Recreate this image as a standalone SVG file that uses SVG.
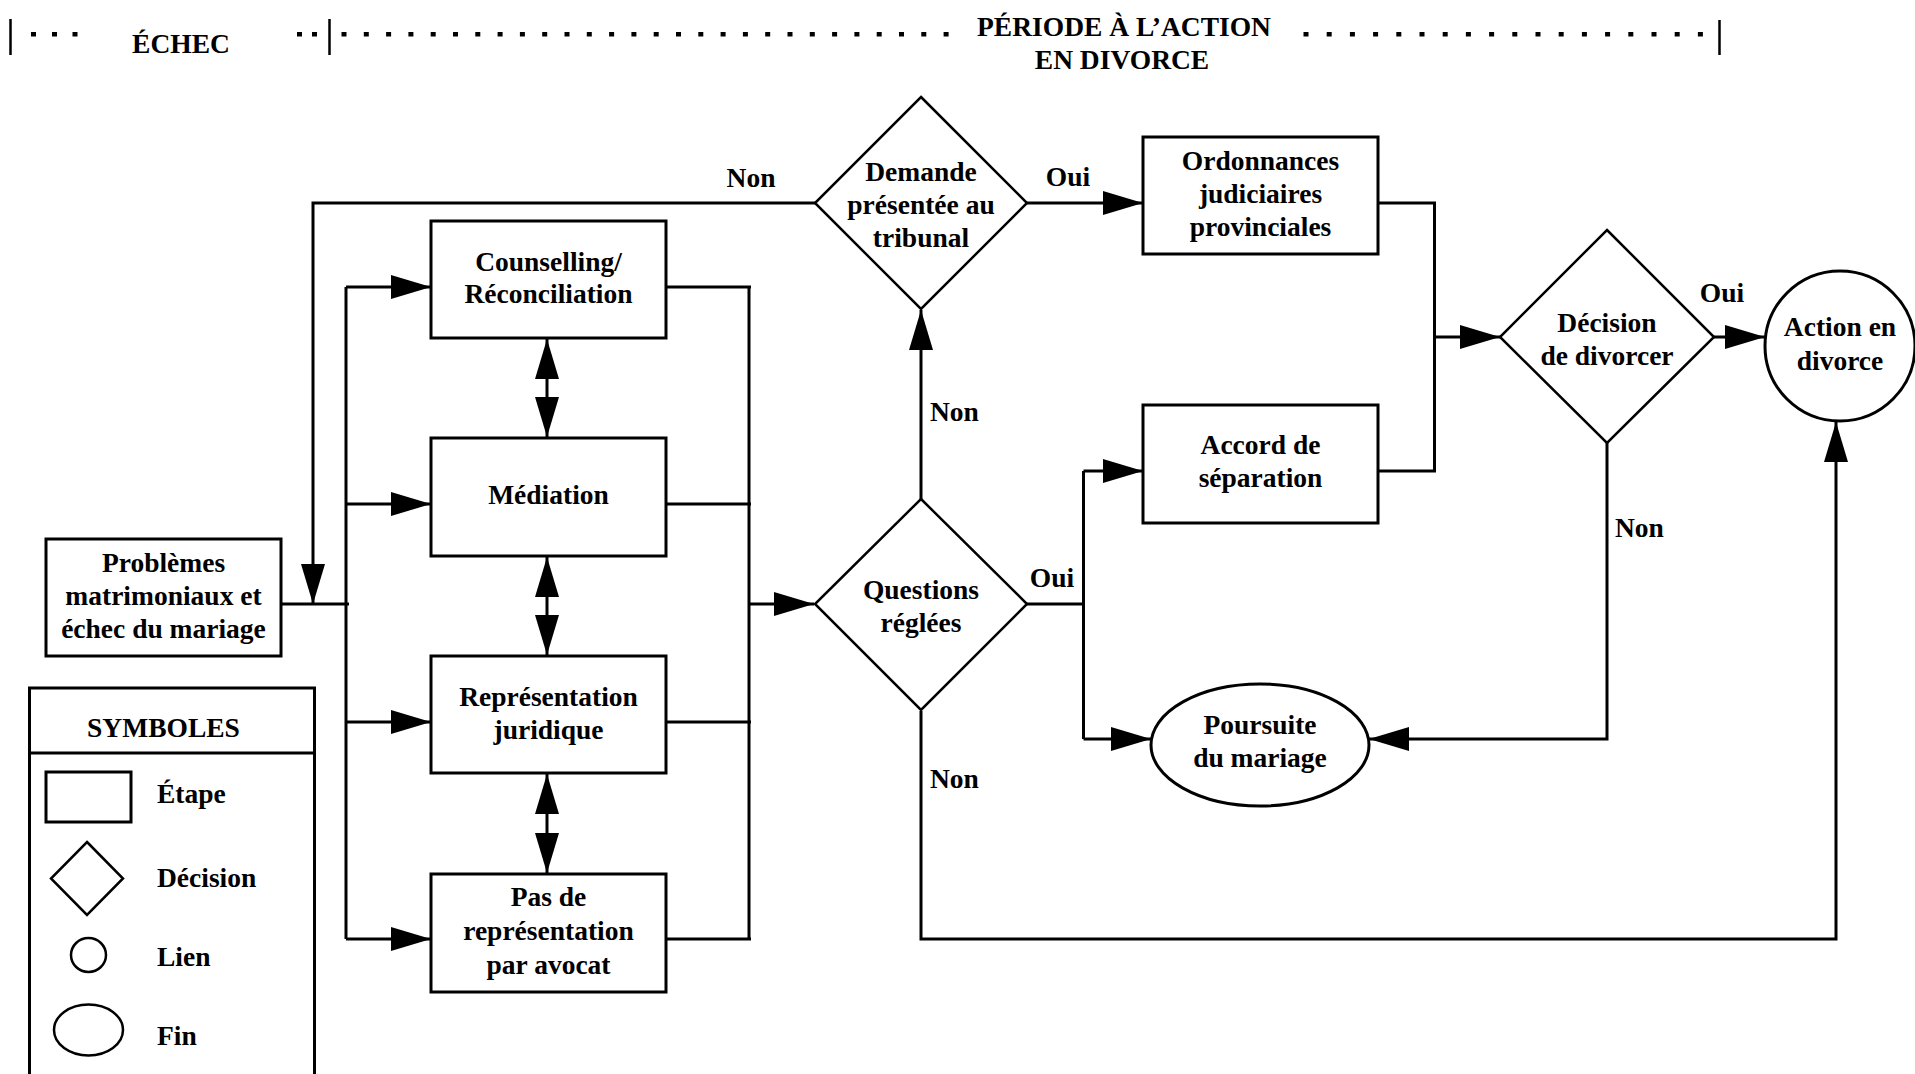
<svg xmlns="http://www.w3.org/2000/svg" width="1915" height="1074" viewBox="0 0 1915 1074">
<defs>
<marker id="ah" markerUnits="userSpaceOnUse" markerWidth="40" markerHeight="24" refX="40" refY="12" orient="auto-start-reverse" viewBox="0 0 40 24"><path d="M0,0 L40,12 L0,24 z" fill="#000"/></marker>
</defs>
<style>
.t{font-family:"Liberation Serif","Times New Roman",serif;font-weight:bold;font-size:27.5px;fill:#000;text-anchor:middle}
.l{text-anchor:start}
.box{fill:#fff;stroke:#000;stroke-width:3}
.dia{fill:#fff;stroke:#000;stroke-width:2.5}
.c{fill:none;stroke:#000;stroke-width:3}
.a{marker-end:url(#ah)}
.b{marker-start:url(#ah);marker-end:url(#ah)}
.bar{stroke:#000;stroke-width:2.5}
</style>
<rect width="1915" height="1074" fill="#fff"/>

<g id="header">
<line class="bar" x1="10.5" y1="19" x2="10.5" y2="55"/>
<line class="bar" x1="329.5" y1="19" x2="329.5" y2="55"/>
<line class="bar" x1="1719.5" y1="20" x2="1719.5" y2="55"/>
<path fill="#000" d="M31,32h5v4.5h-5z M52,32h5v4.5h-5z M72.5,32h5v4.5h-5z M297,32h5v4.5h-5z M312,32h5v4.5h-5z
M341.5,32h5v4.5h-5z M363.8,32h5v4.5h-5z M386.1,32h5v4.5h-5z M408.4,32h5v4.5h-5z M430.7,32h5v4.5h-5z M453,32h5v4.5h-5z M475.3,32h5v4.5h-5z M497.6,32h5v4.5h-5z M519.9,32h5v4.5h-5z M542.2,32h5v4.5h-5z M564.5,32h5v4.5h-5z M586.8,32h5v4.5h-5z M609.1,32h5v4.5h-5z M631.4,32h5v4.5h-5z M653.7,32h5v4.5h-5z M676,32h5v4.5h-5z M698.3,32h5v4.5h-5z M720.6,32h5v4.5h-5z M742.9,32h5v4.5h-5z M765.2,32h5v4.5h-5z M787.5,32h5v4.5h-5z M809.8,32h5v4.5h-5z M832.1,32h5v4.5h-5z M854.4,32h5v4.5h-5z M876.7,32h5v4.5h-5z M899,32h5v4.5h-5z M921.3,32h5v4.5h-5z M943.6,32h5v4.5h-5z
M1303.5,32h5v4.5h-5z M1326.7,32h5v4.5h-5z M1349.9,32h5v4.5h-5z M1373.1,32h5v4.5h-5z M1396.3,32h5v4.5h-5z M1419.5,32h5v4.5h-5z M1442.7,32h5v4.5h-5z M1465.9,32h5v4.5h-5z M1489.1,32h5v4.5h-5z M1512.3,32h5v4.5h-5z M1535.5,32h5v4.5h-5z M1558.7,32h5v4.5h-5z M1581.9,32h5v4.5h-5z M1605.1,32h5v4.5h-5z M1628.3,32h5v4.5h-5z M1651.5,32h5v4.5h-5z M1674.7,32h5v4.5h-5z M1697.9,32h5v4.5h-5z"/>
<text class="t" x="181" y="53">ÉCHEC</text>
<text class="t" x="1124" y="36">PÉRIODE À L’ACTION</text>
<text class="t" x="1122" y="69">EN DIVORCE</text>
</g>

<g id="connectors">
<path class="c" d="M281,604 H349"/>
<path class="c" d="M346,287 V939"/>
<path class="c a" d="M346,287 H431"/>
<path class="c a" d="M346,504 H431"/>
<path class="c a" d="M346,722 H431"/>
<path class="c a" d="M346,939 H431"/>
<path class="c" d="M666,287 H751 M666,504 H751 M666,722 H751 M666,939 H751 M749,287 V939"/>
<path class="c a" d="M749,604 H814"/>
<path class="c b" d="M547,339 V437"/>
<path class="c b" d="M547,557 V655"/>
<path class="c b" d="M547,774 V873"/>
<path class="c a" d="M921,500 V310"/>
<path class="c a" d="M815,203 H313 V604"/>
<path class="c a" d="M1027,203 H1143"/>
<path class="c" d="M1378,203 H1436 M1434.5,203 V471 M1378,471 H1436"/>
<path class="c a" d="M1434.5,337 H1500"/>
<path class="c a" d="M1714,337 H1765"/>
<path class="c" d="M1027,604 H1085 M1083.5,471 V739"/>
<path class="c a" d="M1083.5,471 H1143"/>
<path class="c a" d="M1083.5,739 H1151"/>
<path class="c a" d="M1607,443 V739 H1369"/>
<path class="c a" d="M921,711 V939 H1836 V422"/>
<text class="t" x="751" y="187">Non</text>
<text class="t" x="1068" y="186">Oui</text>
<text class="t l" x="930" y="421">Non</text>
<text class="t" x="1052" y="587">Oui</text>
<text class="t l" x="930" y="788">Non</text>
<text class="t" x="1722" y="302">Oui</text>
<text class="t l" x="1615" y="537">Non</text>
</g>

<g id="problemes">
<rect class="box" x="46" y="539" width="235" height="117"/>
<text class="t" x="163.5" y="572">Problèmes</text>
<text class="t" x="163.5" y="605">matrimoniaux et</text>
<text class="t" x="163.5" y="638">échec du mariage</text>
</g>

<g id="counselling">
<rect class="box" x="431" y="221" width="235" height="117"/>
<text class="t" x="548.5" y="271">Counselling/</text>
<text class="t" x="548.5" y="303">Réconciliation</text>
</g>

<g id="mediation">
<rect class="box" x="431" y="438" width="235" height="118"/>
<text class="t" x="548.5" y="504">Médiation</text>
</g>

<g id="representation">
<rect class="box" x="431" y="656" width="235" height="117"/>
<text class="t" x="548.5" y="706">Représentation</text>
<text class="t" x="548.5" y="739">juridique</text>
</g>

<g id="pas-representation">
<rect class="box" x="431" y="874" width="235" height="118"/>
<text class="t" x="548.5" y="906">Pas de</text>
<text class="t" x="548.5" y="940">représentation</text>
<text class="t" x="548.5" y="974">par avocat</text>
</g>

<g id="demande">
<polygon class="dia" points="921,97 1027,203 921,309 815,203"/>
<text class="t" x="921" y="181">Demande</text>
<text class="t" x="921" y="214">présentée au</text>
<text class="t" x="921" y="247">tribunal</text>
</g>

<g id="questions">
<polygon class="dia" points="921,499 1027,604 921,710 815,604"/>
<text class="t" x="921" y="599">Questions</text>
<text class="t" x="921" y="632">réglées</text>
</g>

<g id="ordonnances">
<rect class="box" x="1143" y="137" width="235" height="117"/>
<text class="t" x="1260.5" y="170">Ordonnances</text>
<text class="t" x="1260.5" y="203">judiciaires</text>
<text class="t" x="1260.5" y="236">provinciales</text>
</g>

<g id="accord">
<rect class="box" x="1143" y="405" width="235" height="118"/>
<text class="t" x="1260.5" y="454">Accord de</text>
<text class="t" x="1260.5" y="487">séparation</text>
</g>

<g id="poursuite">
<ellipse class="box" cx="1260" cy="745" rx="109" ry="61"/>
<text class="t" x="1260" y="734">Poursuite</text>
<text class="t" x="1260" y="767">du mariage</text>
</g>

<g id="decision">
<polygon class="dia" points="1607,230 1714,337 1607,443 1500,337"/>
<text class="t" x="1607" y="332">Décision</text>
<text class="t" x="1607" y="365">de divorcer</text>
</g>

<g id="action">
<circle class="box" cx="1840" cy="346" r="75"/>
<text class="t" x="1840" y="336">Action en</text>
<text class="t" x="1840" y="370">divorce</text>
</g>

<g id="legend">
<rect class="box" x="29.5" y="688" width="285" height="400"/>
<line class="c" x1="29.5" y1="753" x2="314.5" y2="753"/>
<text class="t" x="163.5" y="737">SYMBOLES</text>
<rect class="box" x="46" y="772" width="85" height="50"/>
<text class="t l" x="157" y="803">Étape</text>
<polygon class="dia" points="87,842 123,878.5 87,915 51,878.5"/>
<text class="t l" x="157" y="887">Décision</text>
<ellipse class="dia" cx="88.5" cy="955" rx="17.5" ry="17"/>
<text class="t l" x="157" y="966">Lien</text>
<ellipse class="dia" cx="88.5" cy="1030" rx="34.5" ry="25.5"/>
<text class="t l" x="157" y="1045">Fin</text>
</g>
</svg>
